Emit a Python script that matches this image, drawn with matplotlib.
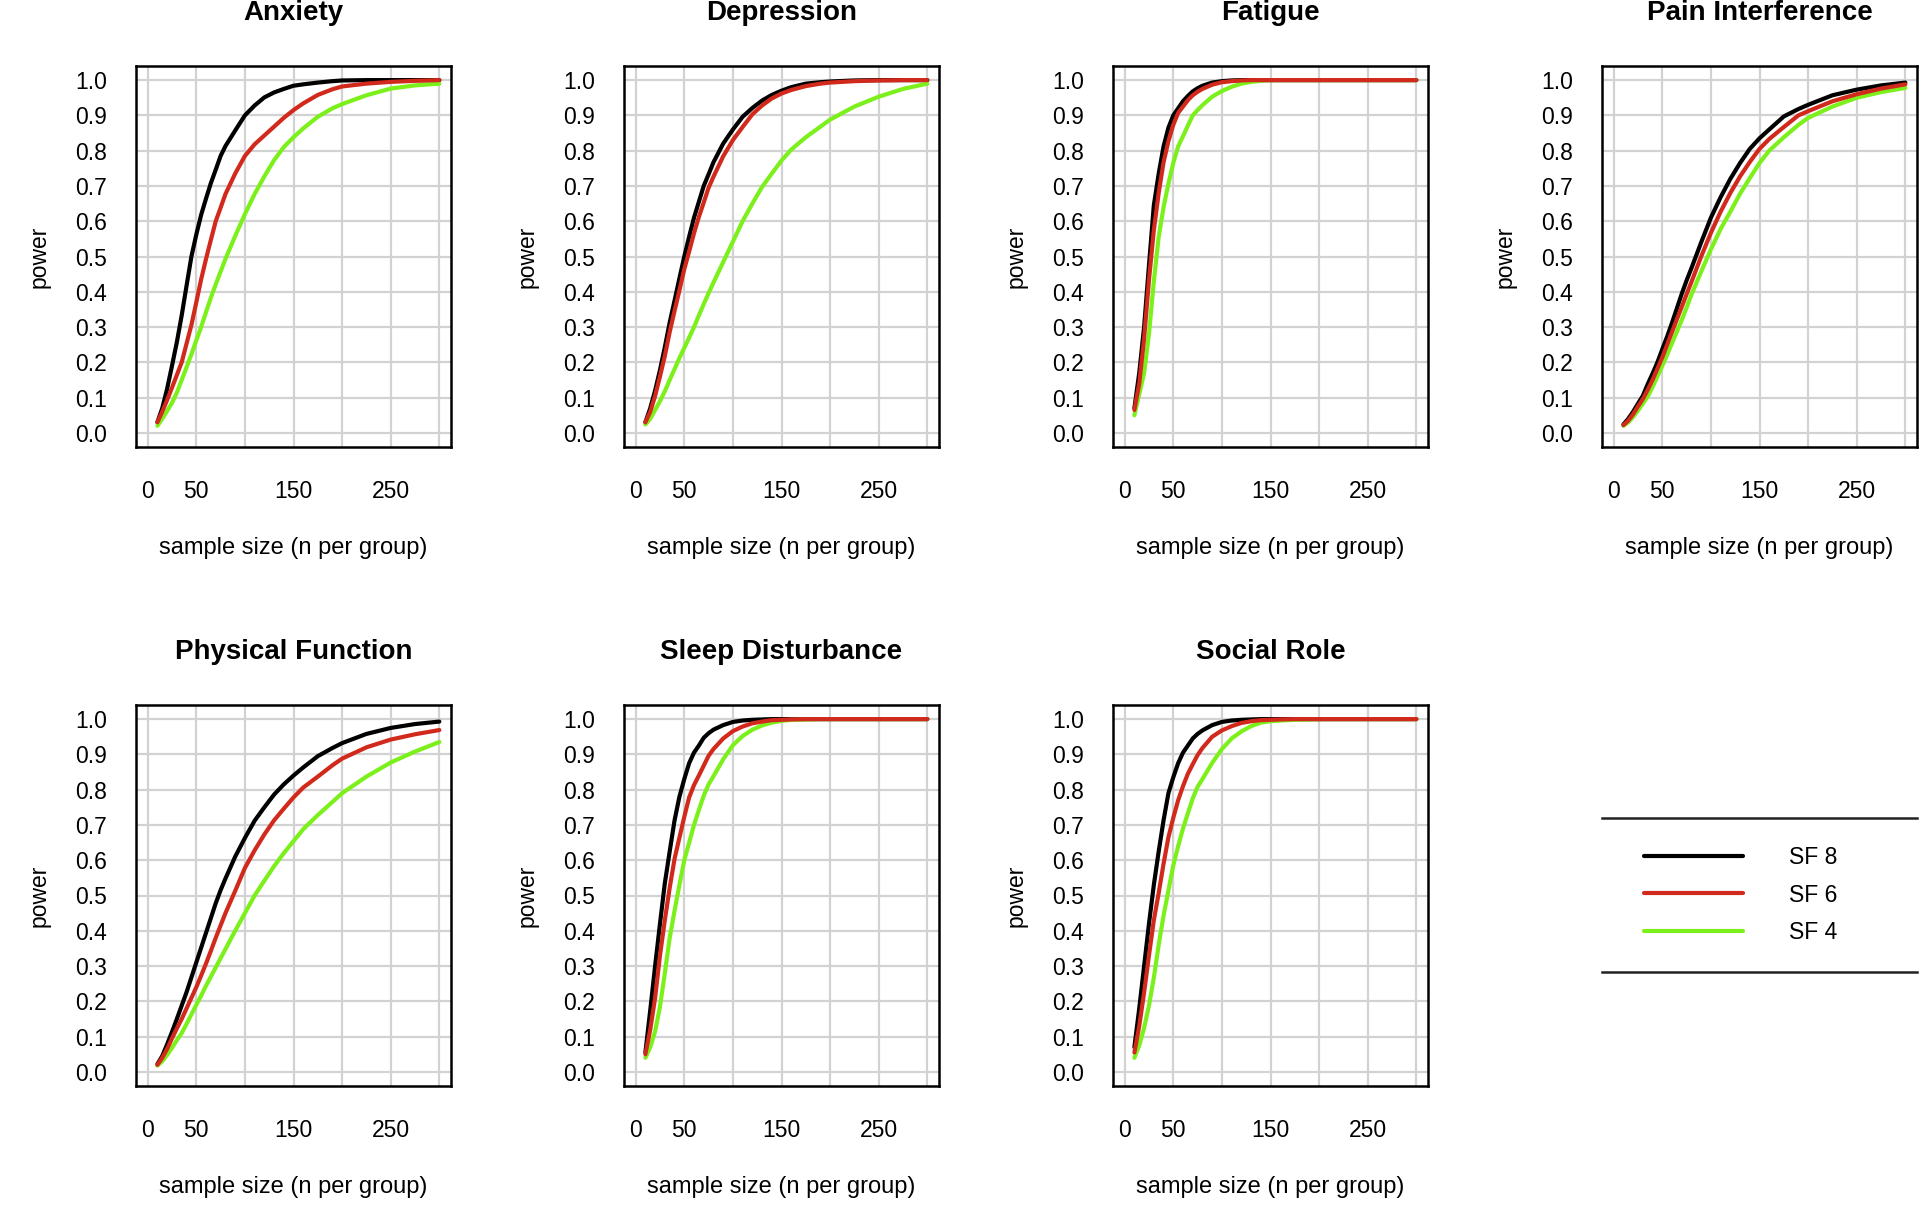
import matplotlib
matplotlib.use("Agg")
import matplotlib.pyplot as plt
from matplotlib.lines import Line2D

plt.rcParams['font.family'] = ['Liberation Sans', 'DejaVu Sans']

# sample sizes (n per group)
n_values = [10, 15, 20, 25, 30, 35, 40, 45, 50, 55,
            60, 65, 70, 75, 80, 90, 100, 110, 120, 130,
            140, 150, 160, 175, 190, 200, 225, 250, 275, 300]

# power values
anxiety_sf8 = [.030, .070, .125, .190, .257, .333, .417, .500, .562, .618,
               .664, .708, .746, .785, .813, .857, .900, .928, .951, .965,
               .975, .984, .988, .993, .997, .999, 1.0, 1.0, 1.0, 1.0]
anxiety_sf6 = [.030, .060, .093, .128, .164, .200, .253, .306, .370, .435,
               .493, .547, .600, .638, .677, .735, .785, .818, .843, .868,
               .893, .915, .934, .958, .974, .982, .990, .995, .998, 1.0]
anxiety_sf4 = [.020, .040, .062, .085, .114, .150, .186, .223, .262, .300,
               .342, .383, .421, .457, .493, .558, .620, .677, .727, .773,
               .810, .838, .863, .896, .920, .932, .957, .976, .985, .990]

depression_sf8 = [.030, .070, .120, .178, .243, .313, .375, .438, .500, .556,
                  .610, .655, .700, .733, .767, .820, .860, .896, .921, .942,
                  .958, .970, .980, .990, .994, .996, .999, 1.0, 1.0, 1.0]
depression_sf6 = [.030, .060, .105, .160, .218, .286, .346, .404, .464, .514,
                  .566, .612, .653, .695, .726, .784, .830, .867, .903, .928,
                  .948, .962, .972, .983, .990, .993, .997, .999, 1.0, 1.0]
depression_sf4 = [.024, .040, .065, .090, .118, .150, .181, .212, .241, .270,
                  .300, .333, .365, .396, .426, .484, .542, .600, .650, .697,
                  .735, .772, .803, .838, .868, .888, .925, .953, .975, .990]

fatigue_sf8 = [.070, .170, .300, .475, .645, .735, .812, .865, .900, .920,
               .940, .955, .968, .977, .984, .993, .997, .999, 1.0, 1.0,
               1.0, 1.0, 1.0, 1.0, 1.0, 1.0, 1.0, 1.0, 1.0, 1.0]
fatigue_sf6 = [.065, .140, .267, .433, .575, .680, .767, .827, .873, .907,
               .925, .943, .957, .967, .975, .987, .994, .997, .999, 1.0,
               1.0, 1.0, 1.0, 1.0, 1.0, 1.0, 1.0, 1.0, 1.0, 1.0]
fatigue_sf4 = [.050, .110, .170, .280, .430, .556, .640, .706, .765, .812,
               .841, .871, .900, .915, .929, .953, .969, .981, .990, .995,
               .998, 1.0, 1.0, 1.0, 1.0, 1.0, 1.0, 1.0, 1.0, 1.0]

pain_sf8 = [.024, .040, .060, .083, .105, .138, .168, .200, .237, .273,
            .312, .353, .394, .432, .467, .540, .610, .668, .720, .765,
            .805, .835, .860, .897, .918, .930, .957, .973, .985, .993]
pain_sf6 = [.022, .035, .053, .075, .096, .122, .150, .182, .214, .250,
            .286, .322, .357, .393, .428, .500, .567, .627, .680, .727,
            .768, .805, .833, .867, .900, .912, .940, .960, .976, .988]
pain_sf4 = [.020, .030, .045, .063, .083, .103, .130, .160, .190, .222,
            .254, .287, .320, .355, .392, .457, .520, .578, .627, .678,
            .722, .765, .800, .838, .873, .893, .925, .950, .966, .978]

physical_sf8 = [.022, .045, .078, .113, .150, .188, .226, .268, .310, .352,
                .394, .436, .478, .515, .548, .610, .663, .712, .750, .786,
                .815, .840, .863, .895, .918, .932, .958, .975, .986, .993]
physical_sf6 = [.020, .040, .065, .095, .123, .150, .180, .210, .240, .273,
                .307, .343, .380, .415, .450, .513, .578, .628, .673, .713,
                .746, .778, .806, .837, .869, .888, .920, .942, .957, .969]
physical_sf4 = [.018, .030, .048, .068, .090, .110, .136, .163, .190, .216,
                .244, .270, .296, .322, .348, .400, .450, .500, .542, .583,
                .620, .654, .688, .728, .765, .790, .837, .877, .908, .935]

sleep_sf8 = [.055, .175, .300, .420, .535, .625, .713, .780, .830, .875,
             .905, .925, .947, .960, .970, .983, .992, .996, .998, .999,
             1.0, 1.0, 1.0, 1.0, 1.0, 1.0, 1.0, 1.0, 1.0, 1.0]
sleep_sf6 = [.050, .120, .210, .330, .430, .522, .604, .664, .723, .778,
             .813, .840, .868, .896, .915, .945, .966, .979, .988, .993,
             .997, .998, .999, 1.0, 1.0, 1.0, 1.0, 1.0, 1.0, 1.0]
sleep_sf4 = [.040, .070, .115, .185, .280, .380, .457, .530, .600, .650,
             .700, .742, .783, .815, .838, .886, .926, .952, .970, .982,
             .990, .995, .998, .999, 1.0, 1.0, 1.0, 1.0, 1.0, 1.0]

social_sf8 = [.070, .180, .300, .420, .530, .625, .713, .790, .835, .875,
              .905, .925, .945, .958, .968, .983, .992, .996, .998, .999,
              1.0, 1.0, 1.0, 1.0, 1.0, 1.0, 1.0, 1.0, 1.0, 1.0]
social_sf6 = [.055, .130, .225, .330, .430, .507, .590, .665, .720, .770,
              .810, .845, .872, .898, .918, .950, .968, .980, .989, .994,
              .997, .998, .999, 1.0, 1.0, 1.0, 1.0, 1.0, 1.0, 1.0]
social_sf4 = [.040, .075, .125, .188, .267, .360, .443, .514, .585, .640,
              .690, .733, .775, .808, .830, .876, .915, .945, .965, .980,
              .990, .994, .996, .998, .999, 1.0, 1.0, 1.0, 1.0, 1.0]

titles = ['Anxiety', 'Depression', 'Fatigue', 'Pain Interference',
          'Physical Function', 'Sleep Disturbance', 'Social Role']
panel_data = [
    (anxiety_sf8, anxiety_sf6, anxiety_sf4),
    (depression_sf8, depression_sf6, depression_sf4),
    (fatigue_sf8, fatigue_sf6, fatigue_sf4),
    (pain_sf8, pain_sf6, pain_sf4),
    (physical_sf8, physical_sf6, physical_sf4),
    (sleep_sf8, sleep_sf6, sleep_sf4),
    (social_sf8, social_sf6, social_sf4),
]
series_labels = ['SF 8', 'SF 6', 'SF 4']
colors = ['#000000', '#D12A1C', '#7CF01A']

x_ticks = [0, 50, 100, 150, 200, 250, 300]
x_ticklabels = ['0', '50', '', '150', '', '250', '']
y_ticks = [i / 10 for i in range(11)]

W, H = 1920, 1224
fig = plt.figure(figsize=(W / 100, H / 100), dpi=100)

col_left = [136, 624, 1113, 1602]
row_top = [66, 705]
box_w, box_h = 315, 381

for k, title in enumerate(titles):
    r, c = divmod(k, 4)
    x0 = col_left[c]
    y0 = row_top[r]
    ax = fig.add_axes([x0 / W, 1 - (y0 + box_h) / H, box_w / W, box_h / H])

    sf8, sf6, sf4 = panel_data[k]
    # black first, then green, red on top
    ax.plot(n_values, sf8, color=colors[0], lw=3.0, solid_capstyle='round',
            solid_joinstyle='round', zorder=3)
    ax.plot(n_values, sf4, color=colors[2], lw=3.0, solid_capstyle='round',
            solid_joinstyle='round', zorder=3)
    ax.plot(n_values, sf6, color=colors[1], lw=3.0, solid_capstyle='round',
            solid_joinstyle='round', zorder=4)

    ax.set_xlim(-12, 312)
    ax.set_ylim(-0.04, 1.04)
    ax.set_xticks(x_ticks)
    ax.set_xticklabels(x_ticklabels)
    ax.set_yticks(y_ticks)
    ax.set_yticklabels([f'{v:.1f}' for v in y_ticks])
    ax.tick_params(axis='both', length=0, labelsize=16.5)
    ax.tick_params(axis='y', pad=21)
    ax.tick_params(axis='x', pad=24)
    ax.grid(True, color='#D2D2D2', lw=1.6)
    ax.set_axisbelow(True)
    for sp in ax.spines.values():
        sp.set_linewidth(1.8)
        sp.set_color('black')

    ax.set_title(title, fontsize=20, fontweight='bold', pad=33)
    ax.set_xlabel('sample size (n per group)', fontsize=17)
    ax.xaxis.set_label_coords(0.5, -0.235)
    ax.set_ylabel('power', fontsize=16.5)
    ax.yaxis.set_label_coords(-0.27, 0.5)

# legend panel
lx0, ly0, lx1, ly1 = 1602, 818, 1917, 972
lax = fig.add_axes([lx0 / W, 1 - ly1 / H, (lx1 - lx0) / W, (ly1 - ly0) / H])
lax.set_xlim(0, 1)
lax.set_ylim(0, 1)
lax.axis('off')
lax.axhline(1, color='#222222', lw=1.8, clip_on=False)
lax.axhline(0, color='#222222', lw=1.8, clip_on=False)
handles = [Line2D([], [], color=col, lw=3.0, solid_capstyle='round') for col in colors]
lax.legend(handles, series_labels, loc='center', bbox_to_anchor=(0.44, 0.5),
           frameon=False, fontsize=16.5, handlelength=4.3, handletextpad=2.0,
           labelspacing=0.62)

fig.savefig('out.png', dpi=100)
